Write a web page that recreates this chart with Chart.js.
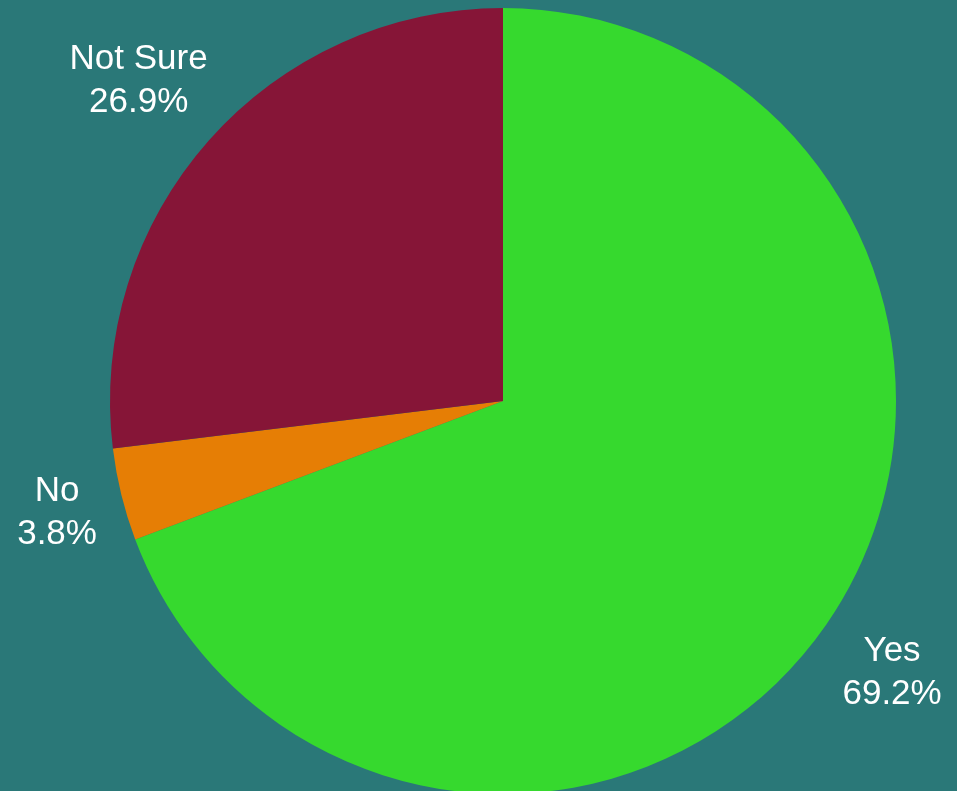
<!DOCTYPE html>
<html>
<head>
<meta charset="utf-8">
<title>Survey responses</title>
<script src="https://cdn.jsdelivr.net/npm/chart.js@4.4.1/dist/chart.umd.min.js"></script>
<style>
  html, body { margin: 0; padding: 0; background: #2a7878; overflow: hidden; }
  #wrap { width: 957px; height: 791px; position: relative; }
</style>
</head>
<body>
<div id="wrap"><canvas id="chart" width="957" height="791"></canvas></div>
<script>
// Answer categories and their share of responses (percent)
const categories = ['Yes', 'No', 'Not Sure'];
const shares = [69.2, 3.8, 26.9];
const sliceColors = ['#36d92e', '#e67e05', '#861537'];

const LABEL_FONT = '35px "Liberation Sans", Arial, sans-serif';
const CAP_HEIGHT = 25;     // visible height of the first line's capitals
const LINE_STEP = 43;      // baseline-to-baseline distance
const LABEL_GAP = 20;      // clearance between the pie edge and the label box

// Draws "name / value%" outside each slice, with the box centred on the
// slice's mid-angle ray and its nearest corner just clear of the rim.
const outsideLabels = {
  id: 'outsideLabels',
  afterDatasetsDraw(chart) {
    const ctx = chart.ctx;
    const meta = chart.getDatasetMeta(0);
    ctx.save();
    ctx.font = LABEL_FONT;
    ctx.fillStyle = '#ffffff';
    ctx.textAlign = 'center';
    ctx.textBaseline = 'alphabetic';
    meta.data.forEach((arc, i) => {
      const p = arc.getProps(['x', 'y', 'startAngle', 'endAngle', 'outerRadius'], true);
      const mid = (p.startAngle + p.endAngle) / 2;
      const ux = Math.cos(mid), uy = Math.sin(mid);
      const line1 = categories[i];
      const line2 = shares[i].toFixed(1) + '%';
      const w = Math.max(ctx.measureText(line1).width, ctx.measureText(line2).width);
      const hw = w / 2;
      const hh = (CAP_HEIGHT + LINE_STEP) / 2;
      const target = p.outerRadius + LABEL_GAP;
      const nearest = (d) => {
        const cx = ux * d, cy = uy * d;
        let m = Infinity;
        [[-1, -1], [1, -1], [-1, 1], [1, 1]].forEach(([sx, sy]) => {
          m = Math.min(m, Math.hypot(cx + sx * hw, cy + sy * hh));
        });
        return m;
      };
      let lo = 0, hi = target + w + 200;
      for (let k = 0; k < 60; k++) {
        const midD = (lo + hi) / 2;
        if (nearest(midD) < target) lo = midD; else hi = midD;
      }
      const cx = p.x + ux * hi, cy = p.y + uy * hi;
      const top = cy - hh;
      ctx.fillText(line1, cx, top + CAP_HEIGHT);
      ctx.fillText(line2, cx, top + CAP_HEIGHT + LINE_STEP);
    });
    ctx.restore();
  }
};

new Chart(document.getElementById('chart'), {
  type: 'pie',
  data: {
    labels: categories,
    datasets: [{
      data: shares,
      backgroundColor: sliceColors,
      borderWidth: 0
    }]
  },
  options: {
    responsive: false,
    animation: false,
    radius: 393,
    layout: { padding: { left: 49, right: 0, top: 11, bottom: 0 } },
    plugins: {
      legend: { display: false },
      tooltip: { enabled: false }
    }
  },
  plugins: [outsideLabels]
});
</script>
</body>
</html>
